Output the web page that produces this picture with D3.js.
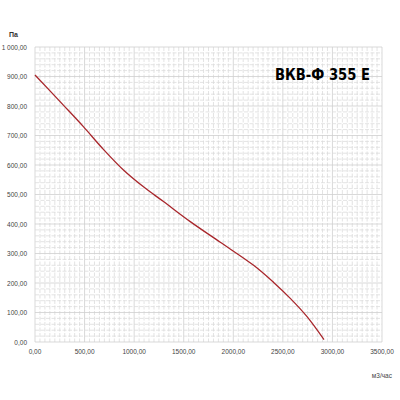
<!DOCTYPE html>
<html>
<head>
<meta charset="utf-8">
<script src="https://cdn.jsdelivr.net/npm/d3@7"></script>
<style>
  body { margin: 0; background: #fff; }
  svg text { font-family: "Liberation Sans", Arial, sans-serif; }
</style>
</head>
<body>
<svg id="chart" width="400" height="400"></svg>
<script>
  // fan curve: airflow (m3/h) vs pressure (Pa)
  const flow = [0, 286, 488, 690, 892, 1094, 1296, 1566, 1869, 2205, 2407, 2575, 2744, 2915];
  const pressure = [905, 803, 730, 653, 583, 526, 476, 408, 338, 260, 202, 148, 86, 8];

  const xTicks = [0, 500, 1000, 1500, 2000, 2500, 3000, 3500];
  const yTicks = [0, 100, 200, 300, 400, 500, 600, 700, 800, 900, 1000];
  const xTickLabels = ["0,00", "500,00", "1000,00", "1500,00", "2000,00", "2500,00", "3000,00", "3500,00"];
  const yTickLabels = ["0,00", "100,00", "200,00", "300,00", "400,00", "500,00", "600,00", "700,00", "800,00", "900,00", "1 000,00"];

  const svg = d3.select("#chart");
  const x = d3.scaleLinear().domain([0, 3500]).range([35, 382]);
  const y = d3.scaleLinear().domain([0, 1000]).range([342, 47]);

  // grid
  const grid = svg.append("g");
  grid.selectAll("line.vx")
    .data(d3.range(0, 3501, 50))
    .join("line")
    .attr("x1", d => x(d)).attr("x2", d => x(d))
    .attr("y1", y(1000)).attr("y2", y(0))
    .attr("stroke", d => d % 500 === 0 ? "#cfcfcf" : "#dcdcdc")
    .attr("stroke-width", 0.8)
    .attr("stroke-dasharray", d => d % 500 === 0 ? null : "4,1.5");
  grid.selectAll("line.hy")
    .data(d3.range(0, 1001, 20))
    .join("line")
    .attr("y1", d => y(d)).attr("y2", d => y(d))
    .attr("x1", x(0)).attr("x2", x(3500))
    .attr("stroke", d => d % 100 === 0 ? "#cfcfcf" : "#dcdcdc")
    .attr("stroke-width", 0.8)
    .attr("stroke-dasharray", d => d % 100 === 0 ? null : "4,1.5");

  // tick labels
  svg.append("g").selectAll("text")
    .data(yTicks)
    .join("text")
    .attr("x", 27)
    .attr("y", d => y(d) + 2.5)
    .attr("text-anchor", "end")
    .attr("font-size", 6.5)
    .attr("fill", "#444")
    .text((d, i) => yTickLabels[i]);

  svg.append("g").selectAll("text")
    .data(xTicks)
    .join("text")
    .attr("x", d => x(d))
    .attr("y", 354)
    .attr("text-anchor", "middle")
    .attr("font-size", 6.5)
    .attr("fill", "#444")
    .text((d, i) => xTickLabels[i]);

  // axis titles
  svg.append("text")
    .attr("x", 9).attr("y", 37)
    .attr("font-size", 7)
    .attr("font-weight", "bold")
    .attr("fill", "#333")
    .text("Па");
  svg.append("text")
    .attr("x", 392).attr("y", 378)
    .attr("text-anchor", "end")
    .attr("font-size", 6.5)
    .attr("fill", "#444")
    .text("м3/час");

  // model name
  svg.append("text")
    .attr("x", 275).attr("y", 80)
    .attr("font-size", 15)
    .attr("font-weight", "bold")
    .attr("textLength", 95)
    .attr("lengthAdjust", "spacingAndGlyphs")
    .style("font-family", "'Liberation Sans Narrow', 'DejaVu Sans Condensed', sans-serif")
    .attr("fill", "#000")
    .text("ВКВ-Ф 355 Е");

  // curve
  const pts = flow.map((f, i) => [f, pressure[i]]);
  svg.append("path")
    .datum(pts)
    .attr("fill", "none")
    .attr("stroke", "#a8262b")
    .attr("stroke-width", 1.3)
    .attr("d", d3.line().x(d => x(d[0])).y(d => y(d[1])).curve(d3.curveCatmullRom));
</script>
</body>
</html>
